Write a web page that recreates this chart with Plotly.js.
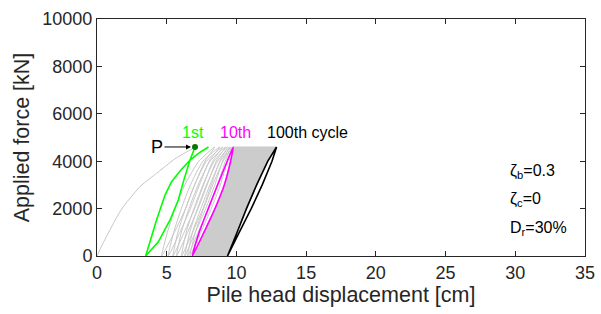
<!DOCTYPE html>
<html>
<head>
<meta charset="utf-8">
<script src="https://cdn.plot.ly/plotly-3.0.1.min.js"></script>
<style>html,body{margin:0;padding:0;background:#fff}#chart{width:601px;height:314px}</style>
</head>
<body>
<div id="chart"></div>
<script>
// ---- data ----
// backbone (monotonic loading up to P)
const backboneX = [0, 0.45, 0.93, 1.4, 1.89, 2.5, 3.08, 3.7, 4.28, 4.9, 5.47, 6.1, 6.67, 7.03];
const backboneY = [0, 560, 1100, 1620, 2080, 2530, 2925, 3230, 3490, 3780, 4050, 4280, 4470, 4600];
const pointP = {x: 7.03, y: 4600};

// 1st cycle (green): from P down to the residual, then back up to the peak
const cyc1X = [7.03, 6.67, 6.2, 5.83, 5.24, 4.4, 3.49, 3.8, 4.27, 4.88, 5.35, 6.0, 6.67, 7.4, 8.0];
const cyc1Y = [4600, 4050, 3150, 2360, 1520, 600, 0, 600, 1520, 2570, 3135, 3620, 4050, 4380, 4600];

// intermediate cycles 2..9 (gray): force levels shared, x per level
const levelY = [0, 1000, 2000, 3000, 4000, 4600];
const grayLeftX = [
  [4.64, 5.05, 5.60, 6.30, 7.30, 8.45],
  [5.11, 5.50, 6.05, 6.70, 7.60, 8.80],
  [5.45, 5.80, 6.35, 7.00, 7.85, 9.00],
  [5.71, 6.05, 6.60, 7.25, 8.10, 9.20],
  [6.07, 6.40, 6.95, 7.60, 8.40, 9.35],
  [6.30, 6.65, 7.20, 7.85, 8.65, 9.50],
  [6.50, 6.85, 7.45, 8.10, 8.85, 9.60],
  [6.67, 7.05, 7.65, 8.30, 9.05, 9.70]
];
const grayRightX = [
  [4.64, 5.55, 6.35, 7.00, 7.75, 8.45],
  [5.11, 5.95, 6.70, 7.35, 8.05, 8.80],
  [5.45, 6.25, 7.00, 7.65, 8.30, 9.00],
  [5.71, 6.50, 7.25, 7.90, 8.55, 9.20],
  [6.07, 6.85, 7.60, 8.20, 8.80, 9.35],
  [6.30, 7.05, 7.80, 8.45, 9.00, 9.50],
  [6.50, 7.25, 8.00, 8.65, 9.20, 9.60],
  [6.67, 7.45, 8.20, 8.85, 9.35, 9.70]
];

// 10th cycle (magenta)
const cyc10LeftX  = [6.84, 7.33, 7.98, 8.65, 9.34, 9.77];
const cyc10RightX = [6.84, 7.67, 8.46, 9.13, 9.58, 9.77];

// 100th cycle (black)
const cyc100LeftX  = [9.36, 10.05, 10.72, 11.45, 12.25, 12.88];
const cyc100RightX = [9.36, 10.20, 11.06, 11.85, 12.55, 12.88];

// labels
const cycleLabels = ['1st', '10th', '100th cycle'];
const paramLabels = ['ζ<sub>b</sub>=0.3', 'ζ<sub>c</sub>=0', 'D<sub>r</sub>=30%'];

// ---- traces ----
const GRAY = '#c8c8c8';
const traces = [];

// dense band of cycles 11..99 (filled region between 10th and 100th)
const bandX = cyc10RightX.concat(cyc100LeftX.slice().reverse());
const bandY = levelY.concat(levelY.slice().reverse());
traces.push({x: bandX, y: bandY, mode: 'lines', fill: 'toself', fillcolor: '#cccccc',
  line: {color: '#cccccc', width: 1}, hoverinfo: 'skip'});

traces.push({x: backboneX, y: backboneY, mode: 'lines', line: {color: GRAY, width: 1, shape: 'spline'}});

for (let i = 0; i < grayLeftX.length; i++) {
  const xs = grayRightX[i].slice().reverse().concat(grayLeftX[i].slice(1));
  const ys = levelY.slice().reverse().concat(levelY.slice(1));
  traces.push({x: xs, y: ys, mode: 'lines', line: {color: GRAY, width: 1, shape: 'spline', smoothing: 0.6}});
}

traces.push({x: cyc1X, y: cyc1Y, mode: 'lines', line: {color: '#00ff00', width: 1.6}});

traces.push({x: cyc10RightX.slice().reverse().concat(cyc10LeftX.slice(1)),
  y: levelY.slice().reverse().concat(levelY.slice(1)),
  mode: 'lines', line: {color: '#ff00ff', width: 1.6, shape: 'spline', smoothing: 0.6}});

traces.push({x: cyc100RightX.slice().reverse().concat(cyc100LeftX.slice(1)),
  y: levelY.slice().reverse().concat(levelY.slice(1)),
  mode: 'lines', line: {color: '#000000', width: 1.6}});

traces.push({x: [pointP.x], y: [pointP.y], mode: 'markers',
  marker: {color: '#007a00', size: 6}});

const FONT = 'Liberation Sans, Arial, sans-serif';
const AX = '#262626';

const layout = {
  width: 601, height: 314,
  margin: {l: 97, r: 16, t: 19, b: 58},
  showlegend: false,
  paper_bgcolor: '#fff', plot_bgcolor: '#fff',
  font: {family: FONT, size: 16, color: AX},
  xaxis: {
    range: [0, 35], dtick: 5, tick0: 0, ticks: 'inside', ticklen: 5, tickcolor: AX,
    showline: true, linecolor: AX, linewidth: 1, mirror: 'ticks', showgrid: false, zeroline: false,
    tickfont: {size: 18, color: AX, family: FONT},
    title: {text: 'Pile head displacement [cm]', font: {size: 21.5, color: AX, family: FONT}, standoff: 5}
  },
  yaxis: {
    range: [0, 10000], dtick: 2000, tick0: 0, ticks: 'inside', ticklen: 5, tickcolor: AX,
    showline: true, linecolor: AX, linewidth: 1, mirror: 'ticks', showgrid: false, zeroline: false,
    tickformat: 'd', exponentformat: 'none', separatethousands: false,
    tickfont: {size: 18, color: AX, family: FONT},
    title: {text: 'Applied force [kN]', font: {size: 21.5, color: AX, family: FONT}, standoff: 6}
  },
  annotations: [
    {x: 6.85, y: 5230, text: cycleLabels[0], showarrow: false, font: {color: '#00ff00', size: 16}},
    {x: 9.93, y: 5230, text: cycleLabels[1], showarrow: false, font: {color: '#ff00ff', size: 16}},
    {x: 12.05, y: 5230, text: cycleLabels[2], showarrow: false, xanchor: 'left', font: {color: '#000', size: 16}},
    {x: pointP.x, y: pointP.y, text: 'P', showarrow: true, ax: -38, ay: 0, arrowhead: 2,
      arrowsize: 1, arrowwidth: 1, arrowcolor: '#000', standoff: 4, font: {color: '#000', size: 18}},
    {x: 29.45, y: 3550, text: paramLabels[0], showarrow: false, xanchor: 'left', font: {color: '#000', size: 16}},
    {x: 29.45, y: 2380, text: paramLabels[1], showarrow: false, xanchor: 'left', font: {color: '#000', size: 16}},
    {x: 29.45, y: 1180, text: paramLabels[2], showarrow: false, xanchor: 'left', font: {color: '#000', size: 16}}
  ]
};

Plotly.newPlot('chart', traces, layout, {staticPlot: true, displayModeBar: false});
</script>
</body>
</html>
